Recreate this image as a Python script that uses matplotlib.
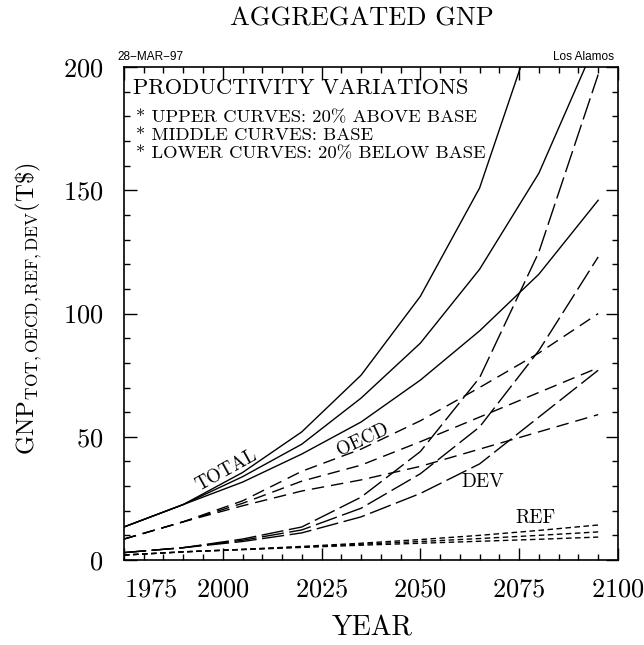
# Aggregated GNP under productivity variations (upper / base / lower curves per region).

import matplotlib.pyplot as plt
from matplotlib.ticker import MultipleLocator

plt.rcParams['font.family'] = 'cmr10'
plt.rcParams['mathtext.fontset'] = 'cm'
plt.rcParams['axes.formatter.use_mathtext'] = True

years = [1975, 1990, 2005, 2020, 2035, 2050, 2065, 2080, 2095]

# TOTAL (solid)
tot_hi = [13.4, 22.5, 35.5, 52.0, 75.0, 107.0, 151.0, 222.0, 311.0]
tot_mid = [13.4, 22.5, 33.8, 47.0, 65.7, 88.0, 118.0, 157.0, 212.0]
tot_lo = [13.4, 22.5, 31.6, 43.0, 56.0, 73.0, 93.0, 116.0, 146.0]

# OECD (dashed)
oecd_hi = [8.5, 15.5, 24.0, 36.0, 45.0, 56.5, 70.0, 84.0, 100.0]
oecd_mid = [8.5, 15.5, 23.0, 32.0, 38.5, 48.0, 58.0, 68.0, 78.0]
oecd_lo = [8.5, 15.5, 22.0, 28.0, 32.5, 38.0, 45.0, 52.0, 59.0]

# DEV (long dashes)
dev_hi = [3.0, 5.0, 8.5, 13.4, 25.5, 44.0, 74.0, 125.0, 197.0]
dev_mid = [3.0, 5.0, 8.0, 12.2, 21.0, 35.0, 54.0, 85.0, 123.0]
dev_lo = [3.0, 5.0, 7.5, 11.0, 17.5, 27.0, 39.0, 58.0, 77.0]

# REF (short dashes)
ref_hi = [2.0, 3.3, 4.3, 5.5, 6.8, 8.3, 10.0, 12.0, 14.2]
ref_mid = [2.0, 3.3, 4.3, 5.3, 6.4, 7.5, 8.7, 10.0, 11.4]
ref_lo = [2.0, 3.3, 4.2, 5.1, 6.0, 6.8, 7.6, 8.4, 9.3]

xticks = [1975, 2000, 2025, 2050, 2075, 2100]

fig = plt.figure(figsize=(6.44, 6.45), dpi=100)
ax = fig.add_axes([0.1925, 0.1318, 0.767, 0.764])

for ys in (tot_hi, tot_mid, tot_lo):
    ax.plot(years, ys, color='black', lw=1.0, ls='-')
for ys in (oecd_hi, oecd_mid, oecd_lo):
    ax.plot(years, ys, color='black', lw=1.0, ls=(0, (9, 5)))
for ys in (dev_hi, dev_mid, dev_lo):
    ax.plot(years, ys, color='black', lw=1.0, ls=(0, (16, 4)))
for ys in (ref_hi, ref_mid, ref_lo):
    ax.plot(years, ys, color='black', lw=1.0, ls=(0, (4, 2.5)))

ax.set_xlim(1975, 2100)
ax.set_ylim(0, 200)

ax.set_xticks(xticks)
ax.xaxis.set_minor_locator(MultipleLocator(5))
ax.yaxis.set_major_locator(MultipleLocator(50))
ax.yaxis.set_minor_locator(MultipleLocator(10))
ax.tick_params(which='both', direction='in', top=True, right=True, width=1.0)
ax.tick_params(which='major', length=9, labelsize=19)
ax.tick_params(axis='x', which='major', pad=13)
ax.tick_params(axis='y', which='major', pad=15)
ax.tick_params(which='minor', length=4.5)
for sp in ax.spines.values():
    sp.set_linewidth(1.2)

# first year label sits flush with the left edge
ax.get_xticklabels()[0].set_horizontalalignment('left')

# curve labels
ax.text(2000.8, 36.5, 'TOTAL', fontsize=13.5, rotation=29, ha='center', va='center')
ax.text(2035.5, 48.7, 'OECD', fontsize=13.5, rotation=25, ha='center', va='center')
ax.text(2065.8, 31.6, 'DEV', fontsize=14, ha='center', va='center')
ax.text(2079.2, 17.0, 'REF', fontsize=14, ha='center', va='center')

# notes
ax.text(0.018, 0.957, 'PRODUCTIVITY VARIATIONS', transform=ax.transAxes,
        fontsize=16.2, ha='left', va='center')
notes = ['* UPPER CURVES: 20% ABOVE BASE',
         '* MIDDLE CURVES: BASE',
         '* LOWER CURVES: 20% BELOW BASE']
for txt, yy in zip(notes, [0.897, 0.862, 0.824]):
    ax.text(0.025, yy, txt, transform=ax.transAxes, fontsize=13.4, ha='left', va='center')

ax.set_xlabel('YEAR', fontsize=20)
ax.xaxis.set_label_coords(0.502, -0.112)
ax.set_ylabel(r'$\mathrm{GNP}_{\mathrm{TOT,OECD,REF,DEV}}(\mathrm{T\$})$', fontsize=17.8)
ax.yaxis.set_label_coords(-0.162, 0.51)

fig.text(0.562, 0.971, 'AGGREGATED GNP', fontsize=19, ha='center', va='center')
fig.text(0.183, 0.912, '28\u2212MAR\u221297', fontsize=8.5, family='Liberation Sans',
         ha='left', va='center')
fig.text(0.953, 0.912, 'Los Alamos', fontsize=8.5, family='Liberation Sans',
         ha='right', va='center')

fig.savefig('out.png', dpi=100)
